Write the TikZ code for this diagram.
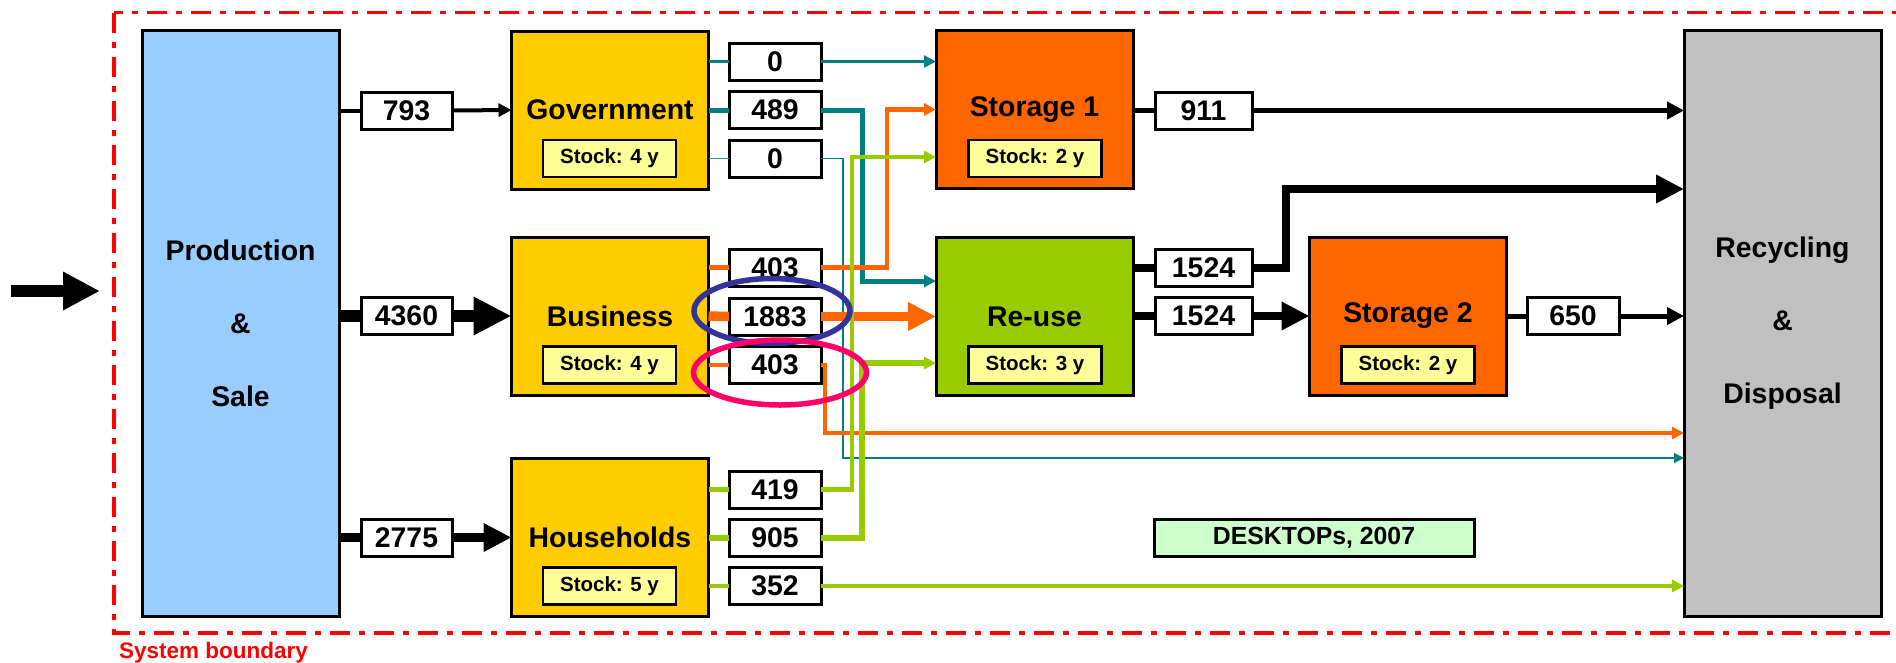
\documentclass[tikz,border=0pt]{standalone}
\usepackage{fontspec}
\setmainfont{Liberation Sans}
\usetikzlibrary{positioning, arrows.meta}
\definecolor{prodblue}{HTML}{99CCFF}
\definecolor{sectoryellow}{HTML}{FFCC00}
\definecolor{stockyellow}{HTML}{FFFF99}
\definecolor{storeorange}{HTML}{FF6600}
\definecolor{reusegreen}{HTML}{99CC00}
\definecolor{recgrey}{HTML}{C0C0C0}
\definecolor{titlemint}{HTML}{CCFFCC}
\definecolor{flowteal}{HTML}{008080}
\definecolor{floworange}{HTML}{FF6600}
\definecolor{flowgreen}{HTML}{99CC00}
\definecolor{ringblue}{HTML}{333399}
\definecolor{ringpink}{HTML}{FF0066}
\newcommand{\fnbox}{\fontsize{28.4pt}{34pt}\selectfont\bfseries}
\newcommand{\fnpillar}{\fontsize{28.4pt}{73pt}\selectfont\bfseries}
\newcommand{\fnstock}{\fontsize{20.5pt}{24pt}\selectfont\bfseries}
\newcommand{\fntitle}{\fontsize{24.8pt}{30pt}\selectfont\bfseries}
\newcommand{\fnlabel}{\fontsize{22.5pt}{27pt}\selectfont\bfseries}
\tikzstyle{Flow} = [
%plain flow line, no rounding at the bends
line join=miter, line cap=butt
]
\begin{document}
\begin{tikzpicture}[x=1pt, y=-1pt,
				stage/.style = {rectangle, draw, line width=3pt, minimum width=197pt, minimum height=158pt, inner sep=0pt, outer sep=0pt, font=\fnbox},
				pillar/.style = {stage, minimum height=586pt, align=center, font=\fnpillar},
				stock/.style = {rectangle, draw, line width=2.5pt, fill=stockyellow, minimum width=133pt, minimum height=37pt, inner sep=0pt, font=\fnstock},
				amount/.style = {rectangle, draw, fill=white, line width=3pt, minimum width=92pt, minimum height=37pt, inner sep=0pt, outer sep=0pt, font=\fnbox},
				titlebox/.style = {rectangle, draw, line width=3pt, fill=titlemint, minimum width=320pt, minimum height=37pt, inner sep=0pt, font=\fntitle},
				markring/.style = {line width=5.5pt},
				small head/.style = {-{Triangle[length=12pt, width=12pt]}},
				big head/.style = {-{Triangle[length=28pt, width=27pt]}},
			]
			\useasboundingbox (0,0) rectangle (1896,662);

			% system boundary
			\draw[red, line width=3.3pt, dash pattern=on 20pt off 9pt on 6pt off 9pt] (114,12.7) rectangle (1940,633);
			\node[anchor=base west, text=red, font=\fnlabel, inner sep=0pt] (sysb) at (119,658) {System boundary};

			% input
			\coordinate (in) at (11,291);
			\coordinate (inend) at (100,291);
			\draw[Flow, line width=12pt, -{Triangle[length=37pt, width=36pt]}] (in) -- (inend);

			% stages
			\node[pillar, fill=prodblue] (prod) at (240.5,323) {Production\\\&\\Sale};
			\node[stage, fill=sectoryellow] (gov) at (610,110) {Government};
			\node[stage, fill=sectoryellow] (bus) at (610,316) {Business};
			\node[stage, fill=sectoryellow] (hh) at (610,537.5) {Households};
			\node[stage, fill=storeorange] (st1) at (1034.5,109.5) {Storage 1};
			\node[stage, fill=reusegreen] (reuse) at (1034.5,316.5) {Re-use};
			\node[stage, fill=storeorange] (st2) at (1408,316) {Storage 2};
			\node[pillar, fill=recgrey] (rec) at (1782.5,323) {Recycling\\\&\\Disposal};

			\node[stock] (govstock) at (609.5,158.5) {Stock: 4 y};
			\node[stock] (busstock) at (609.5,365) {Stock: 4 y};
			\node[stock] (hhstock) at (609.5,586) {Stock: 5 y};
			\node[stock] (st1stock) at (1035,158.5) {Stock: 2 y};
			\node[stock] (reusestock) at (1035,365) {Stock: 3 y};
			\node[stock] (st2stock) at (1408,365) {Stock: 2 y};

			% amounts
			\node[amount, minimum width=91pt] (a793) at (406.5,110.5) {793};
			\node[amount, minimum width=91pt] (a4360) at (406.5,316) {4360};
			\node[amount, minimum width=91pt] (a2775) at (406.5,537.5) {2775};
			\node[amount] (g0a) at (775,61.5) {0};
			\node[amount] (g489) at (775,110) {489};
			\node[amount] (g0b) at (775,158.5) {0};
			\node[amount] (b403a) at (775,267.5) {403};
			\node[amount] (b1883) at (775,316.5) {1883};
			\node[amount] (b403b) at (775,365) {403};
			\node[amount] (h419) at (775,489.5) {419};
			\node[amount] (h905) at (775,537.5) {905};
			\node[amount] (h352) at (775,586) {352};
			\node[amount, minimum width=97pt] (a911) at (1203.5,110.5) {911};
			\node[amount, minimum width=97pt] (a1524a) at (1203.5,268) {1524};
			\node[amount, minimum width=97pt] (a1524b) at (1203.5,316) {1524};
			\node[amount] (a650) at (1573,316) {650};

			\node[titlebox] (title) at (1314,537.5) {DESKTOPs, 2007};

			% sale
			\draw[Flow, line width=4pt] (prod.east |- a793) -- (a793.west);
			\draw[Flow, line width=4pt, -{Triangle[length=13pt, width=13pt]}] (a793.east) -- (gov.west);
			\draw[Flow, line width=12pt] (prod.east |- a4360) -- (a4360.west);
			\draw[Flow, line width=12pt, -{Triangle[length=38pt, width=36pt]}] (a4360.east) -- (bus.west);
			\draw[Flow, line width=9.5pt] (prod.east |- a2775) -- (a2775.west);
			\draw[Flow, line width=9.5pt, big head] (a2775.east) -- (hh.west);

			% government
			\draw[Flow, flowteal, line width=2.5pt] (gov.east |- g0a) -- (g0a.west);
			\draw[Flow, flowteal, line width=2.5pt, small head] (g0a.east) -- (st1.west |- g0a.east);
			\draw[Flow, flowteal, line width=5pt] (gov.east) -- (g489.west);
			\draw[Flow, flowteal, line width=5pt, small head] (g489.east) -- ++(41,0) |- ([yshift=35.5pt]reuse.west);
			\draw[Flow, flowteal!80, line width=1.8pt] (gov.east |- g0b) -- (g0b.west);
			\draw[Flow, flowteal, line width=1.8pt, -{Triangle[length=10pt, width=10pt]}] (g0b.east) -- ++(22,0) |- ([yshift=-135pt]rec.west);

			% business
			\draw[Flow, floworange, line width=4.3pt] (bus.east |- b403a) -- (b403a.west);
			\draw[Flow, floworange, line width=4.3pt, small head] (b403a.east) -- ++(66,0) |- (st1.west);
			\draw[Flow, floworange, line width=9.5pt] (bus.east) -- (b1883.west);
			\draw[Flow, floworange, line width=9.5pt, big head] (b1883.east) -- (reuse.west |- b1883.east);
			\draw[Flow, floworange, line width=4.7pt] (bus.east |- b403b) -- (b403b.west);
			\draw[Flow, floworange, line width=4.7pt, small head] (b403b.east) -- ++(4,0) |- ([yshift=-110pt]rec.west);

			% households
			\draw[Flow, flowgreen, line width=5pt] (hh.east |- h419) -- (h419.west);
			\draw[Flow, flowgreen, line width=4.5pt, small head] (h419.east) -- ++(31,0) |- ([yshift=-47.5pt]st1.west);
			\draw[Flow, flowgreen, line width=6pt] (hh.east) -- (h905.west);
			\draw[Flow, flowgreen, line width=6pt, small head] (h905.east) -- ++(41,0) |- ([yshift=-46.5pt]reuse.west);
			\draw[Flow, flowgreen, line width=4.5pt] (hh.east |- h352) -- (h352.west);
			\draw[Flow, flowgreen, line width=4.5pt, small head] (h352.east) -- (rec.west |- h352.east);

			% storage and re-use
			\draw[Flow, line width=5.5pt] (st1.east |- a911) -- (a911.west);
			\draw[Flow, line width=5.5pt, -{Triangle[length=17pt, width=17pt]}] (a911.east) -- (rec.west |- a911.east);
			\draw[Flow, line width=8pt] (reuse.east |- a1524a) -- (a1524a.west);
			\draw[Flow, line width=8pt, big head] (a1524a.east) -- ++(34,0) |- ([yshift=134pt]rec.west);
			\draw[Flow, line width=8pt] (reuse.east |- a1524b) -- (a1524b.west);
			\draw[Flow, line width=8pt, big head] (a1524b.east) -- (st2.west);
			\draw[Flow, line width=5pt] (st2.east) -- (a650.west);
			\draw[Flow, line width=5pt, -{Triangle[length=17pt, width=17pt]}] (a650.east) -- (rec.west |- a650.east);

			% highlights
			\draw[ringblue, markring] (772,311) ellipse [x radius=78pt, y radius=32.5pt];
			\draw[ringpink, markring] (780,372.5) ellipse [x radius=86.5pt, y radius=32.5pt];

		\end{tikzpicture}
\end{document}
